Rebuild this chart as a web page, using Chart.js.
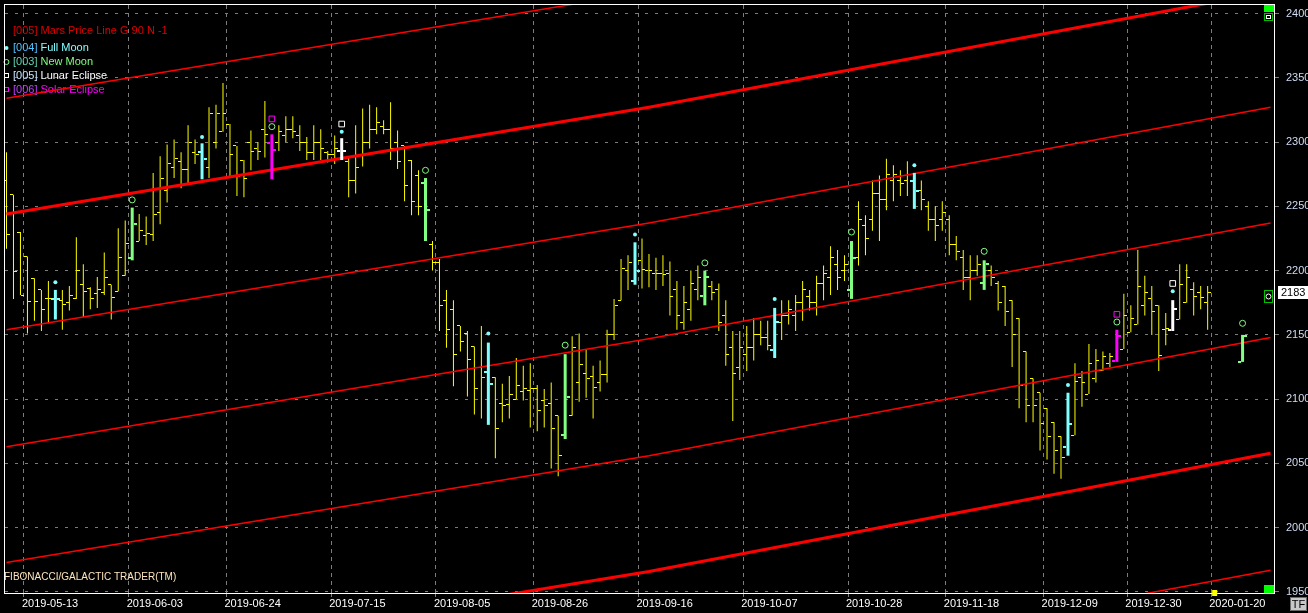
<!DOCTYPE html>
<html>
<head>
<meta charset="utf-8">
<script src="https://cdn.jsdelivr.net/npm/chart.js@4.4.1/dist/chart.umd.min.js"></script>
<style>
  html, body { margin: 0; padding: 0; background: #000; overflow: hidden; }
  canvas { display: block; }
</style>
</head>
<body>
<canvas id="chart" width="1308" height="613"></canvas>
<script>
// date axis: label text and the bar slot boundary where each grid line sits
const dateLabels = ['2019-05-13', '2019-06-03', '2019-06-24', '2019-07-15', '2019-08-05', '2019-08-26',
  '2019-09-16', '2019-10-07', '2019-10-28', '2019-11-18', '2019-12-09', '2019-12-30', '2020-01-20'];
const dateSlots = [2.5, 17.5, 31.5, 46.5, 61.5, 75.5, 90.5, 105.5, 120.5, 134.5, 148.5, 160.5, 172.5];
const priceTicks = [1950, 2000, 2050, 2100, 2150, 2200, 2250, 2300, 2350, 2400];

// daily bars, one per trading slot (slots 173-176 empty, 177 is the projected new moon)
const opens = [
  2270, 2259, 2230, 2211, 2194, 2185, 2178, 2178, 2177, 2175,
  2178, 2189, 2186, 2182, 2183, 2189, 2184, 2196, 2210, 2223,
  2227, 2228, 2245, 2262, 2280, 2285, 2279, 2292, 2292, 2280,
  2300, 2308, 2314, 2297, 2286, 2300, 2295, 2310, 2299, 2300,
  2305, 2310, 2305, 2300, 2292, 2300, 2292, 2290, 2293, 2285,
  2270, 2290, 2300, 2310, 2312, 2310, 2300, 2297, 2286, 2274,
  2268, 2220, 2206, 2177, 2170, 2157, 2151, 2141, 2125, 2121,
  2117, 2097, 2096, 2100, 2106, 2107, 2108, 2099, 2097, 2087,
  2072, 2087, 2113, 2120, 2118, 2113, 2119, 2150, 2177, 2200,
  2192, 2208, 2200, 2198, 2198, 2198, 2185, 2160, 2170, 2185,
  2180, 2188, 2185, 2165, 2140, 2125, 2135, 2140, 2150, 2148,
  2138, 2160, 2165, 2165, 2175, 2180, 2175, 2190, 2195, 2205,
  2200, 2185, 2210, 2235, 2240, 2260, 2255, 2270, 2270, 2270,
  2270, 2262, 2250, 2240, 2240, 2240, 2220, 2210, 2195, 2200,
  2190, 2200, 2190, 2188, 2177, 2163, 2137, 2116, 2105, 2093,
  2082, 2071, 2063, 2072, 2117, 2104, 2116, 2122, 2128, 2130,
  2139, 2152, 2158, 2173, 2178, 2173, 2154, 2154, 2162, 2175,
  2185, 2183, 2175, null, null, null, null, 2129
];
const highs = [
  2292, 2259, 2230, 2211, 2194, 2185, 2192, 2185, 2185, 2188,
  2226, 2205, 2187, 2195, 2214, 2189, 2233, 2239, 2249, 2244,
  2242, 2276, 2289, 2298, 2302, 2292, 2313, 2302, 2299, 2327,
  2329, 2346, 2314, 2297, 2286, 2309, 2300, 2332, 2306, 2313,
  2320, 2320, 2313, 2304, 2313, 2310, 2293, 2305, 2303, 2289,
  2313, 2326, 2329, 2327, 2317, 2331, 2309, 2297, 2286, 2278,
  2272, 2223, 2209, 2185, 2177, 2157, 2153, 2141, 2157, 2144,
  2117, 2112, 2118, 2132, 2126, 2128, 2111, 2108, 2113, 2087,
  2135, 2149, 2151, 2139, 2126, 2130, 2154, 2178, 2209, 2212,
  2222, 2225, 2213, 2210, 2212, 2207, 2192, 2188, 2200, 2204,
  2200, 2192, 2190, 2177, 2153, 2153, 2157, 2163, 2161, 2161,
  2171, 2177, 2177, 2181, 2192, 2185, 2196, 2204, 2219, 2216,
  2212, 2223, 2254, 2243, 2270, 2274, 2287, 2282, 2278, 2285,
  2276, 2270, 2254, 2250, 2254, 2243, 2227, 2216, 2212, 2212,
  2208, 2204, 2192, 2188, 2177, 2163, 2137, 2116, 2105, 2093,
  2082, 2071, 2105, 2128, 2122, 2143, 2139, 2137, 2136, 2154,
  2182, 2173, 2216, 2196, 2188, 2173, 2167, 2177, 2205, 2205,
  2191, 2188, 2188, null, null, null, null, 2150
];
const lows = [
  2217, 2178, 2181, 2151, 2161, 2153, 2159, 2162, 2154, 2169,
  2178, 2164, 2170, 2171, 2181, 2162, 2184, 2196, 2208, 2223,
  2220, 2223, 2236, 2253, 2272, 2264, 2268, 2283, 2271, 2272,
  2295, 2308, 2273, 2258, 2257, 2278, 2286, 2288, 2271, 2293,
  2300, 2303, 2293, 2286, 2286, 2286, 2284, 2283, 2286, 2257,
  2260, 2281, 2295, 2306, 2306, 2286, 2279, 2254, 2243, 2243,
  2223, 2200, 2153, 2140, 2110, 2137, 2102, 2088, 2085, 2080,
  2054, 2082, 2085, 2100, 2099, 2078, 2075, 2078, 2046, 2040,
  2069, 2087, 2098, 2101, 2085, 2106, 2113, 2146, 2177, 2185,
  2189, 2186, 2187, 2185, 2188, 2165, 2154, 2154, 2161, 2177,
  2173, 2177, 2153, 2126, 2083, 2115, 2122, 2130, 2142, 2138,
  2132, 2146, 2158, 2153, 2161, 2169, 2165, 2177, 2181, 2185,
  2192, 2178, 2204, 2212, 2231, 2223, 2247, 2254, 2258, 2258,
  2248, 2247, 2231, 2223, 2231, 2212, 2208, 2185, 2177, 2196,
  2185, 2188, 2169, 2157, 2125, 2093, 2082, 2082, 2060, 2053,
  2042, 2038, 2056, 2072, 2094, 2104, 2113, 2122, 2125, 2129,
  2139, 2152, 2158, 2165, 2150, 2122, 2142, 2153, 2162, 2175,
  2165, 2170, 2154, null, null, null, null, 2129
];
const closes = [
  2228, 2199, 2181, 2176, 2176, 2170, 2178, 2178, 2174, 2181,
  2200, 2184, 2178, 2185, 2195, 2179, 2210, 2221, 2236, 2231,
  2229, 2244, 2272, 2283, 2287, 2279, 2300, 2290, 2287, 2322,
  2322, 2322, 2290, 2273, 2272, 2293, 2293, 2306, 2294, 2308,
  2310, 2308, 2300, 2292, 2300, 2295, 2290, 2295, 2293, 2270,
  2280, 2300, 2310, 2315, 2310, 2295, 2285, 2266, 2254, 2250,
  2247, 2206, 2173, 2154, 2135, 2145, 2131, 2108, 2117, 2112,
  2077, 2095, 2104, 2111, 2108, 2108, 2091, 2095, 2077, 2056,
  2102, 2140, 2127, 2116, 2109, 2119, 2150, 2173, 2202, 2206,
  2200, 2201, 2200, 2198, 2197, 2180, 2165, 2175, 2190, 2195,
  2195, 2183, 2160, 2135, 2120, 2140, 2140, 2150, 2148, 2142,
  2160, 2165, 2170, 2175, 2185, 2175, 2190, 2198, 2210, 2195,
  2205, 2210, 2240, 2225, 2260, 2255, 2275, 2275, 2268, 2275,
  2262, 2255, 2240, 2235, 2245, 2220, 2215, 2195, 2200, 2205,
  2205, 2195, 2175, 2168, 2150, 2111, 2095, 2095, 2081, 2071,
  2060, 2055, 2081, 2114, 2113, 2128, 2130, 2133, 2133, 2149,
  2165, 2163, 2188, 2183, 2168, 2134, 2155, 2170, 2189, 2195,
  2180, 2179, 2183, null, null, null, null, 2149
];

// bars coloured by lunar event
const fullMoonBars = [7, 28, 69, 90, 110, 130, 152];
const newMoonBars = [18, 60, 80, 100, 121, 140, 177];
const lunarEclipseBars = [48, 167];
const solarEclipseBars = [38, 159];

// event markers above the bars
const fullMoonDotSlots = [7, 28, 48, 69, 90, 110, 130, 152, 167];
const fullMoonDotValues = [2191, 2304, 2308, 2151, 2228, 2178, 2282, 2111, 2184];
const newMoonRingSlots = [18, 38, 60, 80, 100, 121, 140, 159, 177];
const newMoonRingValues = [2255, 2312, 2278, 2142, 2206, 2230, 2215, 2160, 2159];
const lunarBoxSlots = [48, 167];
const lunarBoxValues = [2314, 2190];
const solarBoxSlots = [38, 159];
const solarBoxValues = [2318, 2166];

// Mars price lines, read at three slots
const marsSlots = [0, 92, 181];
const marsLevels = [
  [2334, 2417, 2507],
  [2244, 2327, 2417],
  [2154, 2237, 2327],
  [2063, 2147, 2237],
  [1973, 2056, 2148],
  [1884, 1966, 2058],
  [1794, 1876, 1967]
];
const marsThick = [false, true, false, false, false, true, false];

const FONT = '"Liberation Sans", Arial, sans-serif';
const YELLOW = '#ffff00';

// small tick images for open (left) and close (right)
function tickImage(color, side, gap, len, thick) {
  const c = document.createElement('canvas');
  c.width = gap + 2 * len;
  c.height = thick;
  const g = c.getContext('2d');
  g.fillStyle = color;
  g.fillRect(side === 'open' ? 0 : len + gap, 0, len, thick);
  return c;
}

const eventSet = new Set([...fullMoonBars, ...newMoonBars, ...lunarEclipseBars, ...solarEclipseBars]);
const plainBars = opens.map((_, i) => i).filter(i => highs[i] != null && !eventSet.has(i));
const lastBar = plainBars[plainBars.length - 1];

function barSet(list, color, width, order) {
  return {
    type: 'bar',
    data: list.map(i => ({ x: i, y: [lows[i], highs[i]] })),
    backgroundColor: color,
    barThickness: width,
    grouped: false,
    inflateAmount: 0,
    order
  };
}
function tickSet(list, values, img, order) {
  return {
    type: 'scatter',
    data: list.map(i => ({ x: i, y: values[i] })),
    pointStyle: img,
    pointRadius: 3,
    order
  };
}
function markerSet(slots, values, style, radius, color, filled) {
  return {
    type: 'scatter',
    data: slots.map((s, k) => ({ x: s, y: values[k] })),
    pointStyle: style,
    pointRadius: radius,
    backgroundColor: filled ? color : 'rgba(0,0,0,0)',
    borderColor: color,
    borderWidth: filled ? 0 : 1,
    order: 1
  };
}

const datasets = [
  barSet(plainBars, YELLOW, 1, 20),
  tickSet(plainBars, opens, tickImage(YELLOW, 'open', 1, 3, 1), 19),
  tickSet(plainBars, closes, tickImage(YELLOW, 'close', 1, 3, 1), 19)
];

marsLevels.forEach((line, k) => {
  datasets.push({
    type: 'line',
    data: marsSlots.map((s, j) => ({ x: s, y: line[j] })),
    borderColor: '#ff0000',
    borderWidth: marsThick[k] ? 3 : 1.5,
    pointRadius: 0,
    tension: 0,
    fill: false,
    order: 10
  });
});

[[fullMoonBars, '#80ffff'], [newMoonBars, '#80ff80'],
 [lunarEclipseBars, '#ffffff'], [solarEclipseBars, '#ff00ff']].forEach(([list, color]) => {
  datasets.push(barSet(list, color, 3, 5));
  datasets.push(tickSet(list, opens, tickImage(color, 'open', 3, 3, 2), 4));
  datasets.push(tickSet(list, closes, tickImage(color, 'close', 3, 3, 2), 4));
});

datasets.push(markerSet(fullMoonDotSlots, fullMoonDotValues, 'circle', 2, '#80ffff', true));
datasets.push(markerSet(newMoonRingSlots, newMoonRingValues, 'circle', 3, '#80ff80', false));
datasets.push(markerSet(lunarBoxSlots, lunarBoxValues, 'rect', 4, '#ffffff', false));
datasets.push(markerSet(solarBoxSlots, solarBoxValues, 'rect', 4, '#ff00ff', false));

const legendRows = [
  { y: 31, tag: '[005]', name: ' Mars Price Line G 90 N -1', tagColor: '#dd0000', color: '#dd0000', mark: null },
  { y: 48, tag: '[004]', name: ' Full Moon', tagColor: '#4cc4ff', color: '#80ffff', mark: 'dot' },
  { y: 62, tag: '[003]', name: ' New Moon', tagColor: '#60d0b0', color: '#80ff80', mark: 'ring' },
  { y: 76, tag: '[005]', name: ' Lunar Eclipse', tagColor: '#c8e4ff', color: '#ffffff', mark: 'box' },
  { y: 90, tag: '[006]', name: ' Solar Eclipse', tagColor: '#c040ff', color: '#ff00ff', mark: 'box' }
];

const frame = {
  id: 'frame',
  beforeDraw(chart) {
    const ctx = chart.ctx;
    ctx.save();
    ctx.fillStyle = '#000';
    ctx.fillRect(0, 0, chart.width, chart.height);
    ctx.restore();
    ctx.imageSmoothingEnabled = false;
  },
  beforeDatasetsDraw(chart) {
    const ctx = chart.ctx;
    ctx.save();
    ctx.font = '11px ' + FONT;
    ctx.textBaseline = 'middle';
    legendRows.forEach(r => {
      ctx.fillStyle = r.tagColor;
      ctx.fillText(r.tag, 13, r.y);
      const w = ctx.measureText(r.tag).width;
      ctx.fillStyle = r.color;
      ctx.fillText(r.name, 13 + w, r.y);
      ctx.strokeStyle = r.color;
      ctx.fillStyle = r.color;
      ctx.lineWidth = 1;
      if (r.mark === 'dot') {
        ctx.beginPath(); ctx.arc(6.5, r.y, 2, 0, Math.PI * 2); ctx.fill();
      } else if (r.mark === 'ring') {
        ctx.beginPath(); ctx.arc(6.5, r.y, 2.5, 0, Math.PI * 2); ctx.stroke();
      } else if (r.mark === 'box') {
        ctx.strokeRect(4.5, r.y - 2.5, 4, 4);
      }
    });
    ctx.font = '10px ' + FONT;
    ctx.fillStyle = '#ffe4bc';
    ctx.fillText('FIBONACCI/GALACTIC TRADER(TM)', 4, 577);
    ctx.restore();
  },
  afterDraw(chart) {
    const { ctx, chartArea: a, scales } = chart;
    ctx.save();
    ctx.strokeStyle = '#ffffff';
    ctx.lineWidth = 1;
    ctx.strokeRect(a.left - 0.5, a.top - 0.5, a.right - a.left + 1, a.bottom - a.top + 1);

    // corner scroll boxes
    ctx.fillStyle = '#00ff00';
    ctx.fillRect(a.right - 10, a.top, 10, 7);
    ctx.fillRect(a.right - 10, a.bottom - 8, 10, 8);
    ctx.strokeStyle = '#00c000';
    ctx.strokeRect(a.right - 9.5, a.top + 8.5, 8, 7);
    ctx.strokeStyle = '#ffffff';
    ctx.strokeRect(a.right - 7.5, a.top + 10.5, 4, 3);

    // last price marker and label
    const last = closes[lastBar];
    const py = Math.round(scales.y.getPixelForValue(last));
    ctx.strokeStyle = '#00c000';
    ctx.strokeRect(a.right - 9.5, py - 1.5, 8, 12);
    ctx.strokeStyle = '#ffffff';
    ctx.beginPath(); ctx.arc(a.right - 5.5, py + 4.5, 2.5, 0, Math.PI * 2); ctx.stroke();
    ctx.fillStyle = '#ffffff';
    ctx.fillRect(a.right + 4, py - 6, 34, 13);
    ctx.fillStyle = '#000000';
    ctx.font = '11px ' + FONT;
    ctx.textBaseline = 'middle';
    ctx.fillText(String(last), a.right + 7, py + 0.5);

    // yellow time marker on the date axis
    ctx.fillStyle = YELLOW;
    ctx.fillRect(scales.x.getPixelForValue(dateSlots[dateSlots.length - 1]) + 1, a.bottom - 3, 5, 6);

    // TF button
    ctx.fillStyle = '#c8c8c8';
    ctx.fillRect(1290, 597, 17, 14);
    ctx.strokeStyle = '#6a6a6a';
    ctx.strokeRect(1290.5, 597.5, 16, 13);
    ctx.fillStyle = '#000000';
    ctx.textAlign = 'center';
    ctx.fillText('TF', 1298.5, 604.5);
    ctx.restore();
  }
};

new Chart(document.getElementById('chart'), {
  type: 'bar',
  data: { datasets },
  options: {
    responsive: false,
    devicePixelRatio: 1,
    animation: false,
    events: [],
    layout: { padding: { top: 4, left: 2, right: 0, bottom: 0 } },
    plugins: { legend: { display: false }, tooltip: { enabled: false } },
    scales: {
      x: {
        type: 'linear',
        min: -1.5 / 7,
        max: 181.5,
        offset: false,
        afterBuildTicks: s => { s.ticks = dateSlots.map(v => ({ value: v })); },
        afterFit: s => { s.height = 20; s.paddingLeft = 0; s.paddingRight = 0; },
        ticks: {
          callback: (v, i) => dateLabels[i],
          color: '#ffffff',
          font: { family: FONT, size: 11 },
          align: 'start',
          labelOffset: -2,
          maxRotation: 0,
          autoSkip: false,
          padding: 0
        },
        grid: { color: '#7c7c7c', offset: false, tickLength: 4, borderDash: [4, 4] },
        border: { display: false, dash: [4, 4] }
      },
      y: {
        position: 'right',
        min: 1949.22,
        max: 2406.6,
        afterBuildTicks: s => { s.ticks = priceTicks.map(v => ({ value: v })); },
        afterFit: s => { s.width = 34; s.paddingTop = 0; s.paddingBottom = 0; },
        ticks: {
          callback: v => String(v),
          color: '#d0dcf4',
          font: { family: FONT, size: 11 },
          padding: 7
        },
        grid: { color: '#7c7c7c', tickLength: 5, borderDash: [3, 7] },
        border: { display: false, dash: [3, 7] }
      }
    }
  },
  plugins: [frame]
});
</script>
</body>
</html>
